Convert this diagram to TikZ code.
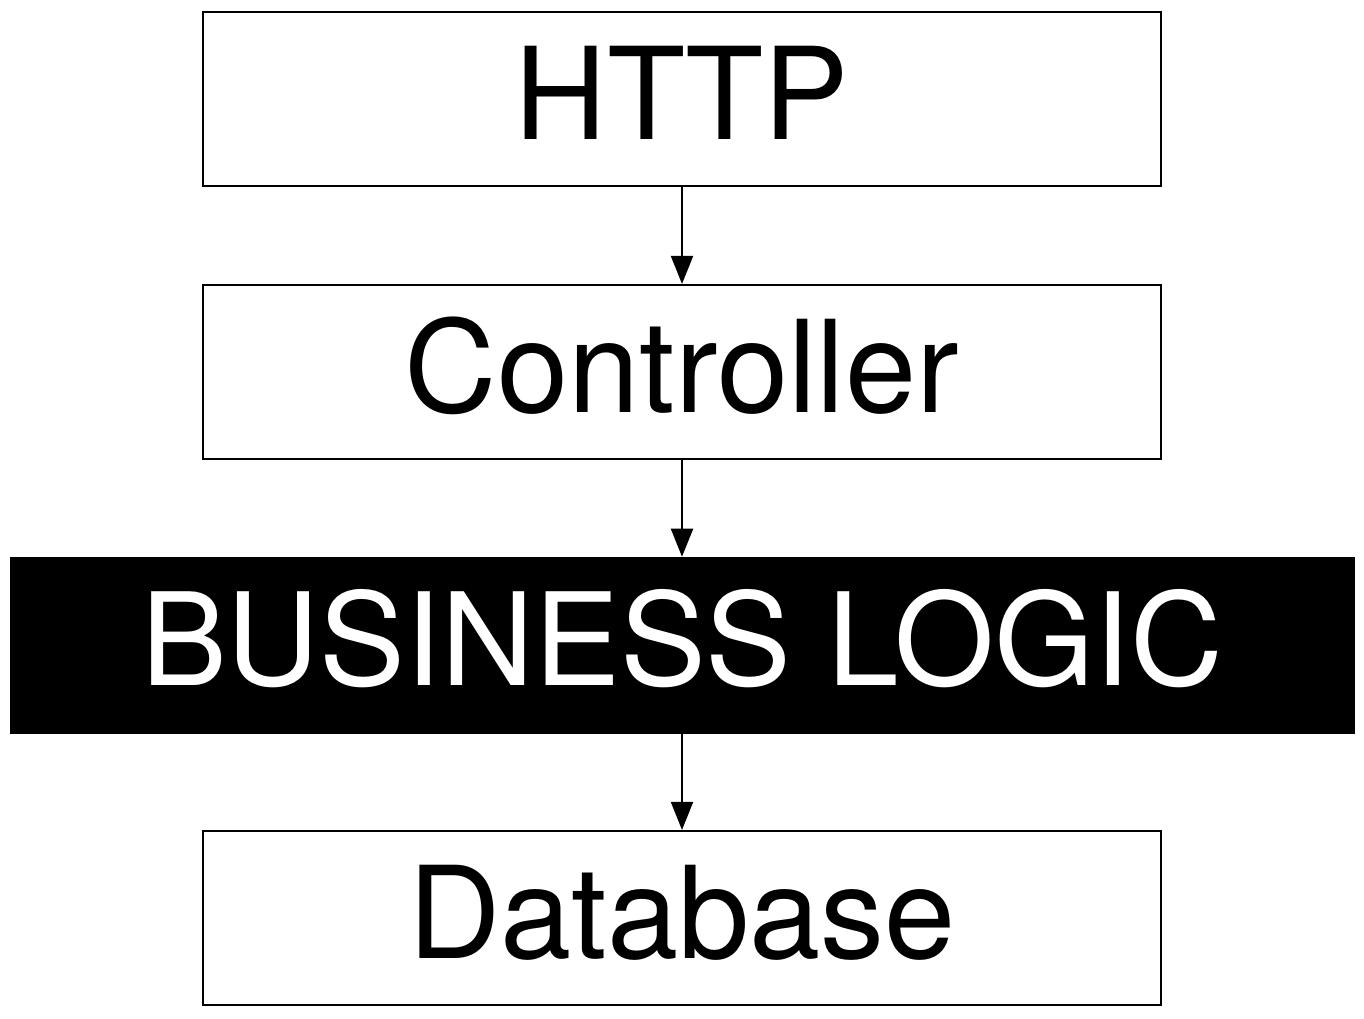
\documentclass[tikz,border=0pt]{standalone}
\usepackage{fontspec}
\setmainfont{TeX Gyre Heros}
\usepackage{tikz}
\usetikzlibrary{arrows.meta}
\tikzset{
  layer_box/.style={rectangle, draw=black, fill=white, line width=1.6pt, inner sep=0pt, minimum width=718pt, minimum height=130.5pt, text height=69pt, text depth=8.6pt, font=\fontsize{96}{100}\selectfont},
  core_box/.style={rectangle, draw=black, fill=black, text=white, inner sep=0pt, minimum width=1008pt, minimum height=132pt, text height=69pt, text depth=8.6pt, font=\fontsize{96.5}{100}\selectfont},
  arrow/.style={-{Triangle[width=16.5pt, length=21pt]}, line width=1.5pt, black}
}
\begin{document}
\begin{tikzpicture}[x=0.75pt, y=-0.75pt]
  \useasboundingbox (0,0) rectangle (1364,1018);

  % Layers
  \node[layer_box] (http) at (682, 99) {HTTP};
  \node[layer_box] (controller) at (682, 372) {Controller};
  \node[core_box] (business) at (682, 645) {BUSINESS LOGIC};
  \node[layer_box] (database) at (682, 918) {Database};

  % Flow
  \draw[arrow] (http) -- (controller);
  \draw[arrow] (controller) -- (business);
  \draw[arrow] (business) -- (database);
\end{tikzpicture}
\end{document}
